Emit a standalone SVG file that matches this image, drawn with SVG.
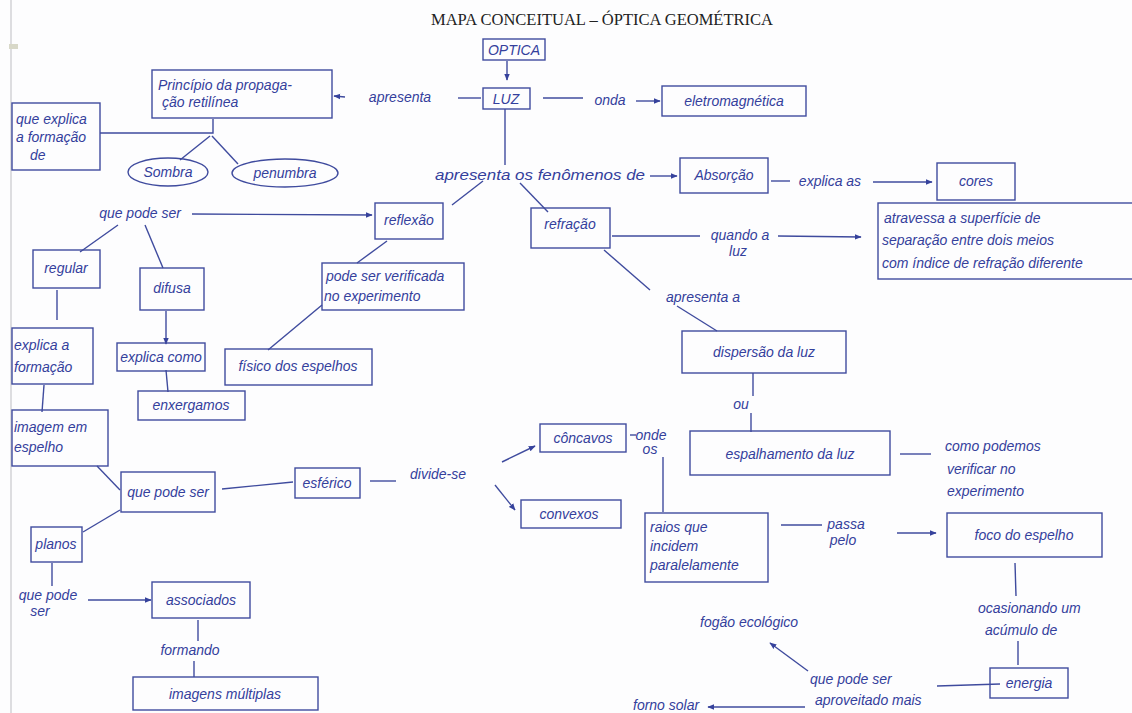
<svg xmlns="http://www.w3.org/2000/svg" width="1132" height="713" viewBox="0 0 1132 713">
<defs>
<marker id="ah" viewBox="0 0 10 10" refX="9" refY="5" markerWidth="7" markerHeight="7" orient="auto-start-reverse" markerUnits="userSpaceOnUse">
<path d="M0,1 L10,5 L0,9 z" fill="#36429c"/>
</marker>
<style>
.b{fill:none;stroke:#3f4b9e;stroke-width:1.4}
.c{fill:none;stroke:#3f4b9e;stroke-width:1.4}
.a{fill:none;stroke:#3f4b9e;stroke-width:1.4;marker-end:url(#ah)}
.t{font-family:"Liberation Sans",Arial,sans-serif;font-style:italic;font-size:14px;fill:#34409c}
.m{text-anchor:middle}
.title{font-family:"Liberation Serif","Times New Roman",serif;font-size:16px;fill:#222}
</style>
</defs>
<rect width="1132" height="713" fill="#fdfdfe"/>
<line x1="11" y1="0" x2="11" y2="713" stroke="#c8c8cc" stroke-width="1.2"/>
<rect x="9" y="44" width="9" height="5" fill="#d8d8c8"/>
<text class="title" x="602" y="25" text-anchor="middle" textLength="342" lengthAdjust="spacingAndGlyphs">MAPA CONCEITUAL – ÓPTICA GEOMÉTRICA</text>

<g id="connectors">
<line class="a" x1="507" y1="61" x2="507" y2="80"/>
<line class="c" x1="458" y1="98" x2="481" y2="98"/>
<line class="a" x1="345" y1="97" x2="334" y2="96"/>
<line class="c" x1="543" y1="98" x2="583" y2="98"/>
<line class="a" x1="636" y1="101" x2="660" y2="101"/>
<line class="c" x1="505" y1="109" x2="505" y2="165"/>
<polyline class="c" points="213,119 213,133 100,133"/>
<line class="c" x1="210" y1="136" x2="180" y2="160"/>
<line class="c" x1="212" y1="136" x2="238" y2="164"/>
<line class="a" x1="650" y1="176" x2="677" y2="176"/>
<line class="c" x1="483" y1="181" x2="452" y2="205"/>
<line class="c" x1="520" y1="183" x2="548" y2="212"/>
<line class="c" x1="771" y1="181" x2="790" y2="181"/>
<line class="a" x1="873" y1="182" x2="932" y2="182"/>
<line class="a" x1="192" y1="214" x2="372" y2="215"/>
<line class="c" x1="118" y1="225" x2="80" y2="252"/>
<line class="c" x1="145" y1="225" x2="163" y2="268"/>
<line class="c" x1="387" y1="241" x2="357" y2="263"/>
<line class="c" x1="322" y1="305" x2="268" y2="350"/>
<line class="c" x1="57" y1="290" x2="57" y2="320"/>
<line class="a" x1="166" y1="311" x2="166" y2="344"/>
<line class="c" x1="166" y1="370" x2="168" y2="392"/>
<line class="c" x1="44" y1="385" x2="42" y2="412"/>
<line class="c" x1="97" y1="466" x2="120" y2="490"/>
<line class="c" x1="83" y1="532" x2="120" y2="510"/>
<line class="c" x1="222" y1="489" x2="293" y2="482"/>
<line class="c" x1="370" y1="481" x2="396" y2="481"/>
<line class="a" x1="502" y1="462" x2="535" y2="446"/>
<line class="a" x1="495" y1="485" x2="515" y2="510"/>
<line class="c" x1="630" y1="435" x2="636" y2="435"/>
<line class="c" x1="663" y1="457" x2="663" y2="512"/>
<line class="c" x1="781" y1="525" x2="822" y2="525"/>
<line class="a" x1="897" y1="533" x2="936" y2="533"/>
<line class="c" x1="612" y1="236" x2="700" y2="236"/>
<line class="a" x1="778" y1="236" x2="861" y2="237"/>
<line class="c" x1="604" y1="250" x2="650" y2="290"/>
<line class="c" x1="677" y1="306" x2="717" y2="331"/>
<line class="c" x1="753" y1="373" x2="753" y2="396"/>
<line class="c" x1="751" y1="413" x2="751" y2="432"/>
<line class="c" x1="900" y1="454" x2="931" y2="454"/>
<line class="c" x1="1015" y1="563" x2="1016" y2="596"/>
<line class="c" x1="1018" y1="641" x2="1018" y2="665"/>
<line class="c" x1="1000" y1="684" x2="937" y2="686"/>
<line class="a" x1="808" y1="671" x2="770" y2="643"/>
<line class="a" x1="805" y1="707" x2="708" y2="707"/>
<line class="c" x1="52" y1="563" x2="52" y2="586"/>
<line class="a" x1="88" y1="600" x2="151" y2="600"/>
<line class="c" x1="198" y1="620" x2="198" y2="641"/>
<line class="c" x1="194" y1="661" x2="194" y2="677"/>
</g>

<g id="optica"><rect class="b" x="483" y="39" width="62" height="21"/><text class="t m" x="514" y="55" font-size="12">OPTICA</text></g>
<g id="luz"><rect class="b" x="483" y="88" width="47" height="21"/><text class="t m" x="506" y="104">LUZ</text></g>
<g id="principio"><rect class="b" x="152" y="70" width="180" height="48"/><text class="t" x="158" y="90">Princípio da propaga-</text><text class="t" x="162" y="107">ção retilínea</text></g>
<g id="apresenta1"><text class="t m" x="400" y="102">apresenta</text></g>
<g id="onda"><text class="t m" x="610" y="105">onda</text></g>
<g id="eletromagnetica"><rect class="b" x="662" y="86" width="144" height="30"/><text class="t m" x="734" y="106">eletromagnética</text></g>
<g id="queexplica"><rect class="b" x="12" y="103" width="88" height="67"/><text class="t" x="16" y="124">que explica</text><text class="t" x="16" y="142">a formação</text><text class="t" x="30" y="160">de</text></g>
<g id="sombra"><ellipse class="b" cx="168" cy="172" rx="40" ry="14"/><text class="t m" x="168" y="177">Sombra</text></g>
<g id="penumbra"><ellipse class="b" cx="285" cy="173" rx="53" ry="14"/><text class="t m" x="285" y="178">penumbra</text></g>
<g id="fenomenos"><text class="t" x="435" y="180" font-size="15" textLength="210" lengthAdjust="spacingAndGlyphs">apresenta os fenômenos de</text></g>
<g id="absorcao"><rect class="b" x="680" y="158" width="88" height="35"/><text class="t m" x="724" y="180">Absorção</text></g>
<g id="explicaas"><text class="t m" x="830" y="186">explica as</text></g>
<g id="cores"><rect class="b" x="937" y="163" width="78" height="37"/><text class="t m" x="976" y="186">cores</text></g>
<g id="quepodeser1"><text class="t m" x="140" y="218">que pode ser</text></g>
<g id="reflexao"><rect class="b" x="375" y="203" width="68" height="36"/><text class="t m" x="409" y="225">reflexão</text></g>
<g id="refracao"><rect class="b" x="531" y="208" width="79" height="40"/><text class="t m" x="570" y="229">refração</text></g>
<g id="quandoaluz"><text class="t m" x="740" y="240">quando a</text><text class="t m" x="738" y="256">luz</text></g>
<g id="atravessa"><rect class="b" x="878" y="203" width="260" height="76"/><text class="t" x="884" y="223">atravessa a superfície de</text><text class="t" x="882" y="245">separação entre dois meios</text><text class="t" x="882" y="268">com índice de refração diferente</text></g>
<g id="regular"><rect class="b" x="33" y="250" width="67" height="38"/><text class="t m" x="66" y="273">regular</text></g>
<g id="difusa"><rect class="b" x="140" y="268" width="64" height="42"/><text class="t m" x="172" y="293">difusa</text></g>
<g id="podeserverificada"><rect class="b" x="322" y="263" width="142" height="47"/><text class="t" x="326" y="281">pode ser verificada</text><text class="t" x="324" y="301">no experimento</text></g>
<g id="apresentaa"><text class="t m" x="703" y="302">apresenta a</text></g>
<g id="dispersao"><rect class="b" x="682" y="331" width="164" height="42"/><text class="t m" x="764" y="357" font-size="15">dispersão da luz</text></g>
<g id="explicaaformacao"><rect class="b" x="12" y="328" width="81" height="56"/><text class="t" x="14" y="350">explica a</text><text class="t" x="14" y="372">formação</text></g>
<g id="explicacomo"><rect class="b" x="117" y="343" width="88" height="28"/><text class="t m" x="161" y="362">explica como</text></g>
<g id="fisico"><rect class="b" x="225" y="349" width="147" height="36"/><text class="t m" x="298" y="371">físico dos espelhos</text></g>
<g id="enxergamos"><rect class="b" x="138" y="391" width="107" height="29"/><text class="t m" x="191" y="410">enxergamos</text></g>
<g id="ou"><text class="t m" x="741" y="409">ou</text></g>
<g id="imagemespelho"><rect class="b" x="12" y="410" width="96" height="56"/><text class="t" x="14" y="432">imagem em</text><text class="t" x="14" y="452">espelho</text></g>
<g id="concavos"><rect class="b" x="540" y="424" width="86" height="28"/><text class="t m" x="583" y="443">côncavos</text></g>
<g id="ondeos"><text class="t m" x="651" y="440" font-size="12">onde</text><text class="t m" x="650" y="454" font-size="12">os</text></g>
<g id="espalhamento"><rect class="b" x="690" y="431" width="200" height="44"/><text class="t m" x="790" y="459">espalhamento da luz</text></g>
<g id="comopodemos"><text class="t" x="945" y="451">como podemos</text><text class="t" x="947" y="474">verificar no</text><text class="t" x="947" y="496">experimento</text></g>
<g id="quepodeser2"><rect class="b" x="121" y="472" width="94" height="40"/><text class="t m" x="168" y="497">que pode ser</text></g>
<g id="esferico"><rect class="b" x="295" y="468" width="65" height="30"/><text class="t m" x="327" y="488">esférico</text></g>
<g id="dividese"><text class="t m" x="438" y="479">divide-se</text></g>
<g id="convexos"><rect class="b" x="521" y="500" width="100" height="28"/><text class="t m" x="569" y="519">convexos</text></g>
<g id="raios"><rect class="b" x="645" y="513" width="123" height="69"/><text class="t" x="650" y="532">raios que</text><text class="t" x="650" y="551">incidem</text><text class="t" x="650" y="570">paralelamente</text></g>
<g id="passapelo"><text class="t m" x="846" y="529">passa</text><text class="t m" x="843" y="545">pelo</text></g>
<g id="foco"><rect class="b" x="947" y="513" width="155" height="44"/><text class="t m" x="1024" y="540" font-size="15">foco do espelho</text></g>
<g id="planos"><rect class="b" x="31" y="527" width="51" height="35"/><text class="t m" x="56" y="549">planos</text></g>
<g id="quepodeser3"><text class="t m" x="48" y="600">que pode</text><text class="t m" x="40" y="616">ser</text></g>
<g id="associados"><rect class="b" x="152" y="582" width="98" height="36"/><text class="t m" x="201" y="605">associados</text></g>
<g id="ocasionando"><text class="t" x="978" y="613">ocasionando um</text><text class="t" x="985" y="635">acúmulo de</text></g>
<g id="fogao"><text class="t" x="700" y="627" font-size="15">fogão ecológico</text></g>
<g id="formando"><text class="t m" x="190" y="655">formando</text></g>
<g id="energia"><rect class="b" x="990" y="668" width="78" height="30"/><text class="t m" x="1029" y="688">energia</text></g>
<g id="quepodeser4"><text class="t" x="810" y="684">que pode ser</text><text class="t" x="815" y="705">aproveitado mais</text></g>
<g id="fornosolar"><text class="t" x="633" y="710">forno solar</text></g>
<g id="imagensmultiplas"><rect class="b" x="133" y="677" width="185" height="33"/><text class="t m" x="225" y="699" font-size="15">imagens múltiplas</text></g>
</svg>
